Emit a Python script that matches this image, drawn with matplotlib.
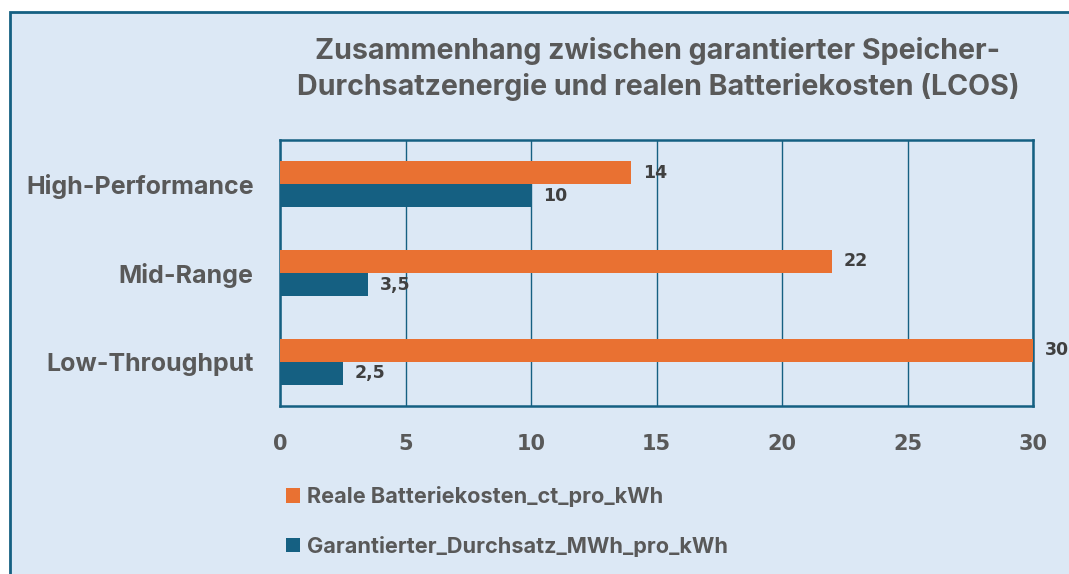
import matplotlib

matplotlib.use("Agg")
import matplotlib.pyplot as plt
import numpy as np
from matplotlib.patches import Rectangle


categories = ["Low-Throughput", "Mid-Range", "High-Performance"]
kosten = [30, 22, 14]
durchsatz = [2.5, 3.5, 10]
kosten_labels = ["30", "22", "14"]
durchsatz_labels = ["2,5", "3,5", "10"]
series_names = ["Reale Batteriekosten_ct_pro_kWh", "Garantierter_Durchsatz_MWh_pro_kWh"]
xticks = [0, 5, 10, 15, 20, 25, 30]

ORANGE = "#E97132"
BLUE = "#156082"
GREY = "#595959"
BG = "#DCE8F5"
TITLE_FONT = ["Inter", "DejaVu Sans"]
NUM_FONT = ["DejaVu Sans"]

W, H = 1069, 574
fig = plt.figure(figsize=(W / 100, H / 100), dpi=100)
fig.patch.set_facecolor("white")

# chart frame with light blue fill
fig.patches.append(Rectangle((10 / W, -0.05), 1.1, 1 - 12 / H + 0.05, transform=fig.transFigure,
                             fc=BG, ec=BLUE, lw=2, zorder=-10))

ax = fig.add_axes([280 / W, 1 - 406 / H, (1033 - 280) / W, (406 - 140) / H])
ax.set_facecolor("none")

y = np.arange(len(categories))
h = 0.26
b1 = ax.barh(y + h / 2, kosten, h, color=ORANGE, label=series_names[0], zorder=3)
b2 = ax.barh(y - h / 2, durchsatz, h, color=BLUE, label=series_names[1], zorder=3)

for bars, labels in [(b1, kosten_labels), (b2, durchsatz_labels)]:
    for bar, lab in zip(bars, labels):
        ax.annotate(lab, (bar.get_width(), bar.get_y() + bar.get_height() / 2),
                    xytext=(8.5, 0), textcoords="offset points", ha="left", va="center",
                    fontsize=12.5, fontweight="bold", color="#404040", family=NUM_FONT,
                    annotation_clip=False, zorder=5)

ax.set_xlim(0, 30)
ax.set_ylim(-0.5, 2.5)
ax.set_xticks(xticks)
ax.set_xticklabels([str(t) for t in xticks], fontsize=15, fontweight="bold", color=GREY, family=NUM_FONT)
ax.set_yticks(y)
ax.set_yticklabels(categories, fontsize=18, fontweight="bold", color=GREY, family=TITLE_FONT)
ax.tick_params(axis="x", length=0, pad=20)
ax.tick_params(axis="y", length=0, pad=19)
ax.grid(axis="x", color=BLUE, lw=1, zorder=1)
for s in ax.spines.values():
    s.set_color(BLUE)
    s.set_linewidth(1.8)

fig.text(658 / W, 1 - 69 / H, "Zusammenhang zwischen garantierter Speicher-\nDurchsatzenergie und realen Batteriekosten (LCOS)",
         ha="center", va="center", fontsize=20.6, fontweight="bold", color=GREY, family=TITLE_FONT,
         linespacing=1.38)

fig.legend(handles=[b1, b2], loc="upper left", bbox_to_anchor=(286 / W, 1 - 486 / H),
           frameon=False, handlelength=0.65, handleheight=0.65, handletextpad=0.3,
           labelspacing=1.33, borderaxespad=0, borderpad=0,
           prop={"family": TITLE_FONT, "weight": "bold", "size": 15.6}, labelcolor=GREY)

fig.savefig("out.png", dpi=100)
